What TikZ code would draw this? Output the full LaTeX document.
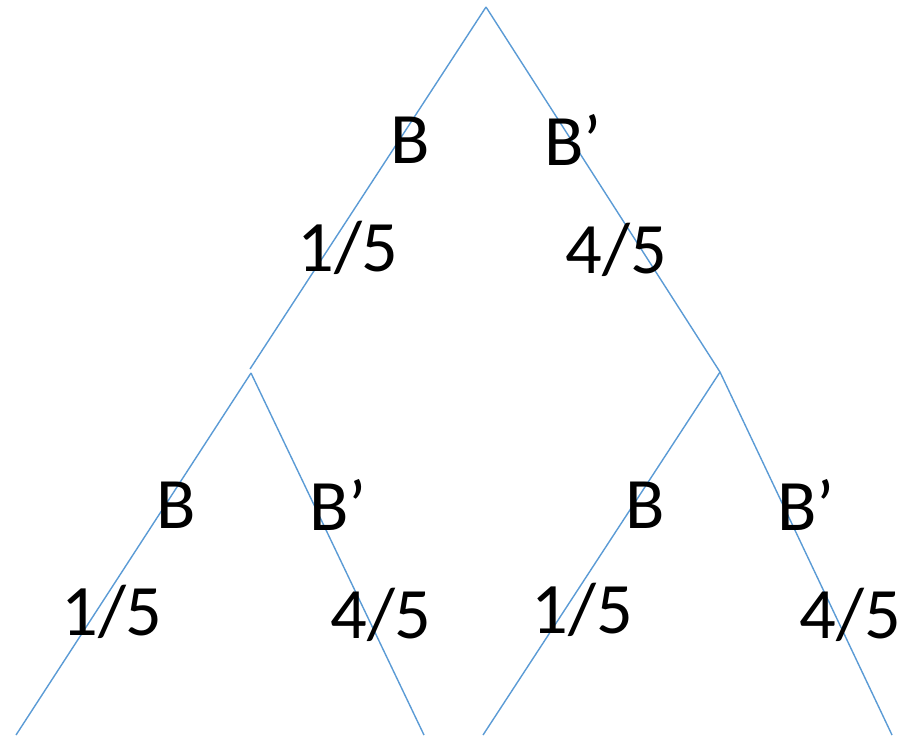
\documentclass[tikz,border=0pt]{standalone}
\usepackage{fontspec}
\setmainfont{Carlito}
\definecolor{branchblue}{RGB}{91,155,213}
\begin{document}
\begin{tikzpicture}[x=0.01cm,y=-0.01cm,
  branch/.style={draw=branchblue,line width=0.4pt},
  lbl/.style={inner sep=0pt,font=\fontsize{20.6}{24}\selectfont}]
\useasboundingbox (0,0) rectangle (904,735);
\coordinate (root) at (486,7);
\coordinate (lend) at (250,369);
\coordinate (left) at (251,373);
\coordinate (right) at (720,372);
\coordinate (ll) at (16,735);
\coordinate (lr) at (424,735);
\coordinate (rl) at (483,735);
\coordinate (rr) at (892,735);

\draw[branch] (root) -- (lend);
\draw[branch] (root) -- (right);
\draw[branch] (left) -- (ll);
\draw[branch] (left) -- (lr);
\draw[branch] (right) -- (rl);
\draw[branch] (right) -- (rr);

\node[lbl] (b1) at (410,140) {B};
\node[lbl] (bp1) at (573,140) {B’};
\node[lbl] (p1) at (348,248) {1/5};
\node[lbl] (q1) at (616,250) {4/5};

\node[lbl] (b2) at (176,505) {B};
\node[lbl] (bp2) at (338,505) {B’};
\node[lbl] (p2) at (112,612) {1/5};
\node[lbl] (q2) at (381,615) {4/5};

\node[lbl] (b3) at (645,505) {B};
\node[lbl] (bp3) at (806,505) {B’};
\node[lbl] (p3) at (582,610) {1/5};
\node[lbl] (q3) at (850,615) {4/5};
\end{tikzpicture}
\end{document}
